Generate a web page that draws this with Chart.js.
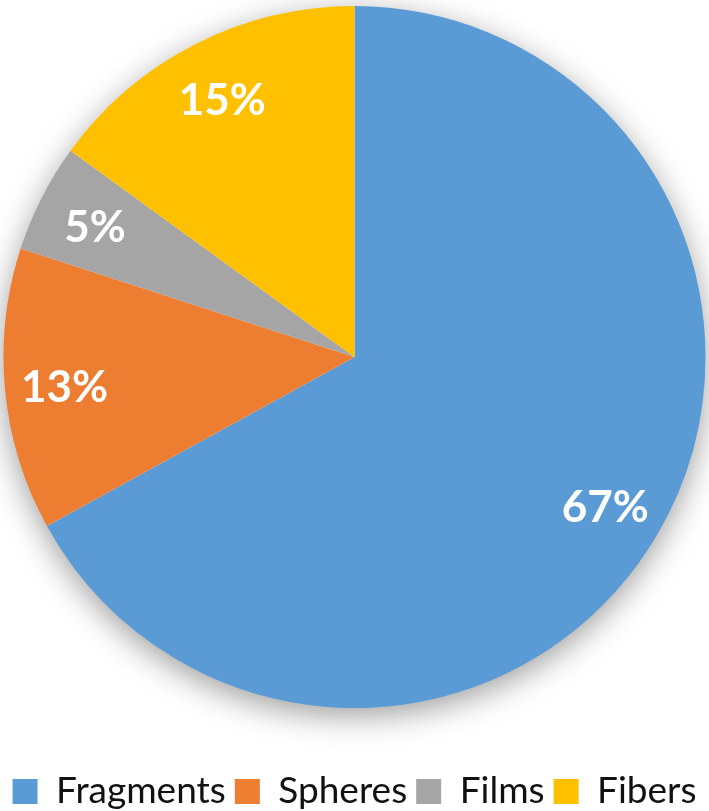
<!DOCTYPE html>
<html>
<head>
<meta charset="utf-8">
<script src="https://cdn.jsdelivr.net/npm/chart.js@4/dist/chart.umd.min.js"></script>
<style>
  html, body { margin: 0; padding: 0; background: #fff; overflow: hidden; }
  #wrap { width: 709px; height: 811px; overflow: hidden; }
</style>
</head>
<body>
<div id="wrap"><canvas id="pie" width="709" height="820"></canvas></div>
<script>
// valores
const categorias = ['Fragments', 'Spheres', 'Films', 'Fibers'];
const percentuais = [67, 13, 5, 15];
const cores = ['#5B9BD5', '#ED7D31', '#A5A5A5', '#FFC000'];

// sombra suave atrás da pizza
const sombraPizza = {
    id: 'sombraPizza',
    beforeDatasetsDraw(chart) {
        const arc = chart.getDatasetMeta(0).data[0];
        if (!arc) return;
        const ctx = chart.ctx;
        ctx.save();
        ctx.shadowColor = 'rgba(0,0,0,0.4)';
        ctx.shadowBlur = 32;
        ctx.shadowOffsetY = 8;
        ctx.fillStyle = '#fff';
        ctx.beginPath();
        ctx.arc(arc.x, arc.y, arc.outerRadius - 1, 0, Math.PI * 2);
        ctx.fill();
        ctx.restore();
    }
};

// rótulos de porcentagem dentro das fatias
const rotulos = {
    id: 'rotulos',
    afterDatasetsDraw(chart) {
        const ctx = chart.ctx;
        const meta = chart.getDatasetMeta(0);
        ctx.save();
        ctx.font = 'bold 44px Lato, "Open Sans", sans-serif';
        ctx.fillStyle = '#fff';
        ctx.textAlign = 'center';
        ctx.textBaseline = 'middle';
        meta.data.forEach((arc, i) => {
            const ang = (arc.startAngle + arc.endAngle) / 2;
            const r = arc.outerRadius * 0.83;
            ctx.fillText(percentuais[i] + '%', arc.x + Math.cos(ang) * r, arc.y + Math.sin(ang) * r + 3);
        });
        ctx.restore();
    }
};

new Chart(document.getElementById('pie'), {
    type: 'pie',
    data: {
        labels: categorias,
        datasets: [{
            data: percentuais,
            backgroundColor: cores,
            borderWidth: 0,
            radius: 351
        }]
    },
    options: {
        responsive: false,
        animation: false,
        layout: { padding: { top: 5, left: 0, right: 0, bottom: 0 } },
        plugins: {
            tooltip: { enabled: false },
            legend: {
                position: 'bottom',
                // título vazio só para empurrar a legenda para baixo
                title: { display: true, text: ' ', font: { size: 10 }, padding: { top: 43, bottom: 0 } },
                labels: {
                    boxWidth: 25,
                    boxHeight: 25,
                    padding: 9,
                    color: '#111',
                    font: { family: 'Lato, "Open Sans", sans-serif', size: 37 }
                }
            }
        }
    },
    plugins: [sombraPizza, rotulos]
});
</script>
</body>
</html>
